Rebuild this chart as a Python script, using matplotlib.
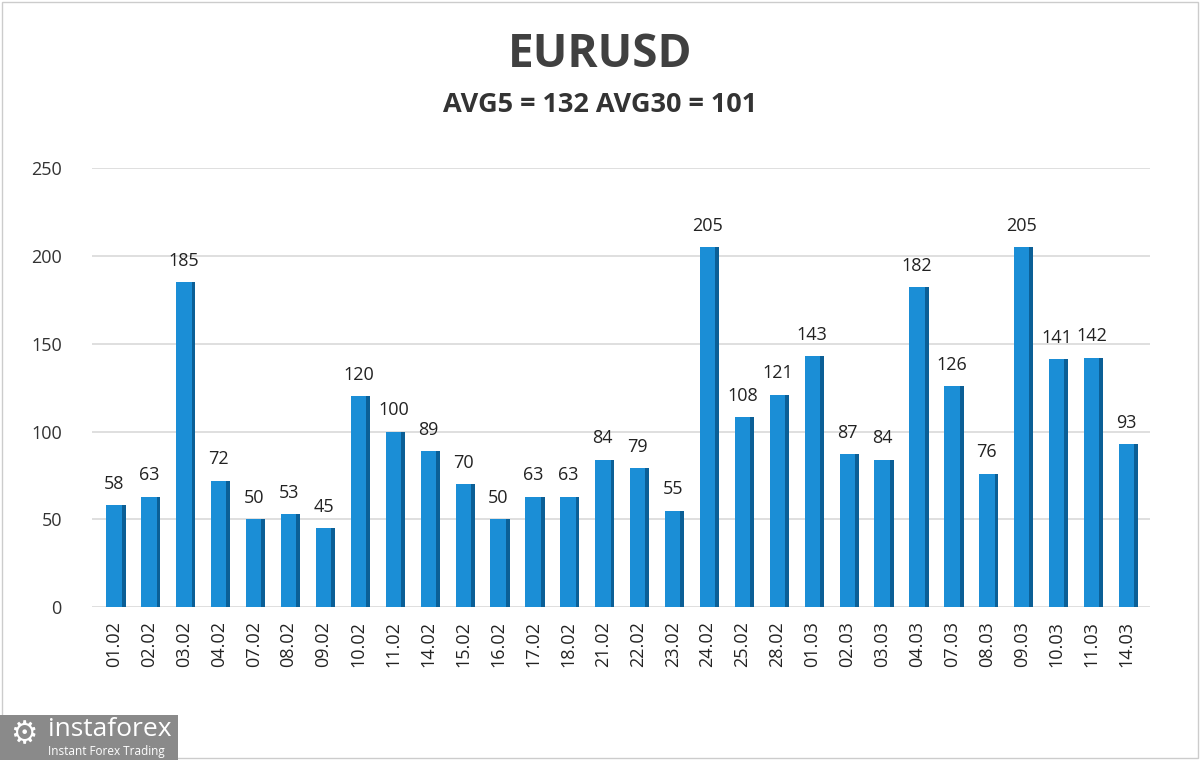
import matplotlib.pyplot as plt
from matplotlib.patches import Rectangle

# data
dates = ['01.02', '02.02', '03.02', '04.02', '07.02', '08.02', '09.02', '10.02',
         '11.02', '14.02', '15.02', '16.02', '17.02', '18.02', '21.02', '22.02',
         '23.02', '24.02', '25.02', '28.02', '01.03', '02.03', '03.03', '04.03',
         '07.03', '08.03', '09.03', '10.03', '11.03', '14.03']
values = [58, 63, 185, 72, 50, 53, 45, 120, 100, 89, 70, 50, 63, 63, 84, 79,
          55, 205, 108, 121, 143, 87, 84, 182, 126, 76, 205, 141, 142, 93]
title = 'EURUSD'
subtitle = 'AVG5 = 132 AVG30 = 101'

plt.rcParams['font.family'] = ['Open Sans', 'DejaVu Sans']

fig = plt.figure(figsize=(12, 7.6), dpi=100)
ax = fig.add_axes([0.077, 0.201, 0.881, 0.578])

x = list(range(len(values)))
w = 0.44
side = 0.11

# front face
ax.bar(x, values, width=w, color='#1b8ed6', zorder=3)
# darker side face to fake the 3D look
ax.bar([i + w / 2 + side / 2 for i in x], values, width=side,
       color='#0b5f96', zorder=3)

for i, v in zip(x, values):
    ax.text(i, v + 7, str(v), ha='center', va='bottom', fontsize=13,
            color='#222222', zorder=4)

ax.set_ylim(0, 250)
ax.set_xlim(-0.62, len(values) - 1 + 0.66)
ax.set_yticks(range(0, 251, 50))
ax.set_xticks(x)
ax.set_xticklabels(dates, rotation=90, fontsize=13, color='#222222')
ax.tick_params(axis='y', labelsize=13, labelcolor='#333333', length=0, pad=22)
ax.tick_params(axis='x', length=0, pad=10)
ax.grid(axis='y', color='#d9d9d9', linewidth=1.2, zorder=0)
for s in ax.spines.values():
    s.set_visible(False)

fig.text(0.5, 0.928, title, ha='center', va='center', fontsize=33,
         fontweight='bold', color='#404040')
fig.text(0.5, 0.862, subtitle, ha='center', va='center', fontsize=19.5,
         fontweight='bold', color='#333333')

# thin frame round the picture
fig.patches.append(Rectangle((0.002, 0.003), 0.996, 0.994, transform=fig.transFigure,
                             fill=False, edgecolor='#cccccc', linewidth=1))

# watermark box
fig.patches.append(Rectangle((0, 0), 178 / 1200, 45 / 760, transform=fig.transFigure,
                             facecolor='#8a8a8a', edgecolor='none'))
fig.text(48 / 1200, 30 / 760, 'instaforex', fontsize=19, color='white',
         va='center', ha='left')
fig.text(48 / 1200, 9 / 760, 'Instant Forex Trading', fontsize=8.5, color='white',
         va='center', ha='left')
fig.text(24 / 1200, 25 / 760, '\u2699', fontsize=22, color='white',
         va='center', ha='center', family='DejaVu Sans')

fig.savefig('out.png', dpi=100)
